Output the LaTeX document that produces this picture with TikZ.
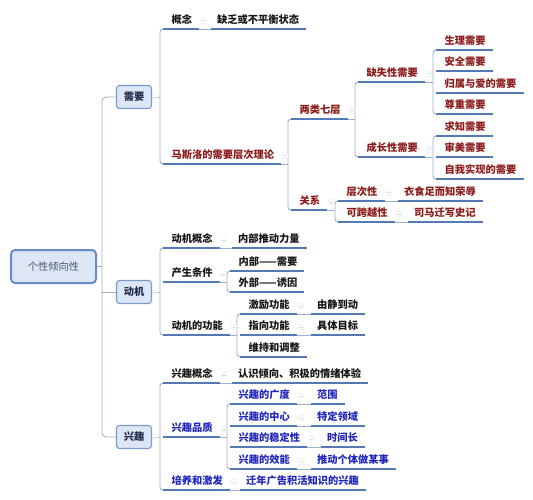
\documentclass[tikz,border=0pt]{standalone}
\usepackage{fontspec}
\newfontfamily\cjk{Noto Sans CJK SC}
\usetikzlibrary{positioning,calc}
\definecolor{LineBlue}{RGB}{84,122,182}
\definecolor{BusGray}{RGB}{160,176,202}
\definecolor{BoxFill}{RGB}{220,230,244}
\definecolor{BoxEdge}{RGB}{122,154,202}
\definecolor{RootEdge}{RGB}{102,140,204}
\definecolor{TopicRed}{RGB}{140,26,26}
\definecolor{TopicBlue}{RGB}{32,38,188}
\definecolor{TopicBlack}{RGB}{22,22,22}
\definecolor{BoxText}{RGB}{32,46,78}

\tikzset{
  topic/.style={anchor=south west,inner xsep=0pt,inner ysep=0pt,
    text height=9pt,text depth=5pt,
    font=\cjk\bfseries\fontsize{10.25pt}{12pt}\selectfont},
  uline/.style={draw=LineBlue,line width=1.2pt},
  bus/.style={draw=BusGray,line width=0.9pt,rounded corners=3pt},
  fold/.style={circle,draw=gray!18,fill=white,inner sep=0pt,minimum size=6pt,
    path picture={\draw[gray!30,line width=0.6pt]
      ([xshift=-1.6pt]path picture bounding box.center) --
      ([xshift=1.6pt]path picture bounding box.center);}},
  branchbox/.style={draw=BoxEdge,fill=BoxFill,line width=1.1pt,rounded corners=3pt,
    minimum width=35pt,minimum height=23pt,inner sep=0pt,text=BoxText,
    font=\cjk\bfseries\fontsize{10.25pt}{12pt}\selectfont},
}

\begin{document}
\begin{tikzpicture}[x=1pt,y=-1pt]
  \useasboundingbox (0,0) rectangle (533,500);

  % root and main branches
  \node[draw=RootEdge,fill=BoxFill,line width=2pt,rounded corners=4pt,
        minimum width=85pt,minimum height=33pt,text=BoxText!80,
        font=\cjk\fontsize{10.25pt}{12pt}\selectfont] (root) at (53.5,266.5) {个性倾向性};
  \node[branchbox] (xy) at (134,97)  {需要};
  \node[branchbox] (dj) at (134,292) {动机};
  \node[branchbox] (xq) at (134,437) {兴趣};

  % topics
  \foreach \n/\x/\y/\t in {
      xy1/171.5/29/概念, xy1a/217/29/缺乏或不平衡状态,
      dj1/171.5/248/动机概念, dj1a/238/248/内部推动力量,
      dj2/171.5/282/产生条件, nb/238.5/271/内部——需要, wb/238.5/292/外部——诱因,
      dj3/171.5/335/动机的功能, jl/248.5/314/激励功能, jla/317/314/由静到动,
      zx/248.5/335/指向功能, zxa/317/335/具体目标, wc/248.5/357/维持和调整,
      xq1/171.5/383/兴趣概念, xq1a/238/383/认识倾向、积极的情绪体验}
    \node[topic,text=TopicBlack] (\n) at (\x,\y) {\t};
  \foreach \n/\x/\y/\t in {
      xy2/171.5/164/马斯洛的需要层次理论,
      lq/299.5/119/两类七层, gx/299.5/210/关系,
      qs/366.5/82/缺失性需要, cz/366.5/157/成长性需要,
      sl/444.5/50/生理需要, aq/444.5/71/安全需要, gs/444.5/93/归属与爱的需要,
      zz/444.5/114/尊重需要, qz/444.5/136/求知需要, sm/444.5/157/审美需要,
      zw/444.5/179/自我实现的需要,
      ccx/346.5/201/层次性, ccxa/404/201/衣食足而知荣辱,
      kkx/346.5/222/可跨越性, kkxa/414/222/司马迁写史记}
    \node[topic,text=TopicRed] (\n) at (\x,\y) {\t};
  \foreach \n/\x/\y/\t in {
      xq2/171.5/437/兴趣品质,
      gd/238.5/404/兴趣的广度, gda/317/404/范围,
      zxin/238.5/426/兴趣的中心, zxina/317/426/特定领域,
      wd/238.5/447/兴趣的稳定性, wda/327/447/时间长,
      xn/238.5/469/兴趣的效能, xna/317/469/推动个体做某事,
      xq3/171.5/490/培养和激发, xq3a/246/490/迁年广告积活知识的兴趣}
    \node[topic,text=TopicBlue] (\n) at (\x,\y) {\t};

  % bus points
  \foreach \n in {xy1,lq,qs,sl,qz,ccx,dj1,nb,jl,xq1,gd}
    \coordinate (\n-b) at ([xshift=-11.5pt]\n.south west);
  \coordinate (rb) at ([xshift=5pt]root.east);

  % connectors
  \draw[bus,rounded corners=4pt] (xy.west) -| (rb) |- (xq.west);
  \draw[bus] (root.east) -- (rb);
  \draw[bus] (rb |- dj.west) -- (dj.west);
  \foreach \p/\a in {xy/xy1,dj/dj1,xq/xq1}
    \draw[bus] (\p.east) -- (\p.east -| \a-b);
  \foreach \a/\c in {xy1/xy2,lq/gx,qs/cz,sl/zz,qz/zw,ccx/kkx,
                     dj1/dj3,nb/wb,jl/wc,xq1/xq3,gd/xn}
    \draw[bus] ([xshift=-8.5pt]\a.south west) -- (\a-b) -- (\a-b |- \c.south)
      -- ([xshift=-8.5pt]\c.south west);
  \foreach \p/\a in {xy2/lq,lq/qs,qs/sl,cz/qz,gx/ccx,dj2/nb,dj3/jl,xq2/gd}
    \draw[bus] ([xshift=7pt]\p.south east) -- (\p.south -| \a-b);
  \foreach \p/\c in {xy1/xy1a,ccx/ccxa,kkx/kkxa,dj1/dj1a,jl/jla,zx/zxa,
                     xq1/xq1a,gd/gda,zxin/zxina,wd/wda,xn/xna,xq3/xq3a}
    \draw[bus] ([xshift=7pt]\p.south east) -- ([xshift=-6pt]\c.south west);

  % underlines
  \foreach \n in {xy1,xy2,lq,gx,qs,cz,sl,aq,gs,zz,qz,sm,zw,ccx,kkx,
                  dj1,dj2,dj3,nb,wb,jl,zx,wc,xq1,xq2,xq3,gd,zxin,wd,xn}
    \draw[uline] ([xshift=-8.5pt]\n.south west) -- ([xshift=7pt]\n.south east);
  \foreach \n in {xy1a,ccxa,kkxa,dj1a,jla,zxa,xq1a,gda,zxina,wda,xna,xq3a}
    \draw[uline] ([xshift=-6pt]\n.south west) -- ([xshift=7pt]\n.south east);

  % fold marks
  \foreach \p in {xy1,xy2,lq,qs,cz,gx,ccx,kkx,dj1,dj2,dj3,jl,zx,
                  xq1,xq2,gd,zxin,wd,xn,xq3}
    \node[fold] (\p-f) at ([xshift=11pt,yshift=1pt]\p.east) {};
  \foreach \p in {xy,dj,xq}
    \node[fold] (\p-f) at ([xshift=3pt]\p.east) {};
\end{tikzpicture}
\end{document}
